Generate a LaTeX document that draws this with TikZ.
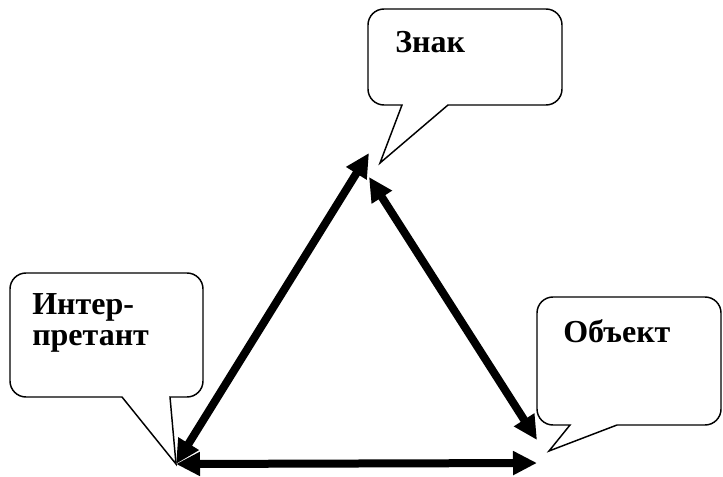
\documentclass[tikz,border=0pt]{standalone}
\usepackage{fontspec}
\setmainfont{Liberation Serif}
\usetikzlibrary{arrows.meta}

\tikzset{
  callout/.style={draw, line width=1.1pt, rounded corners=12pt},
  label text/.style={font=\fontsize{24}{23.5}\selectfont\bfseries, inner sep=0pt, align=left},
  relation/.style={line width=6pt, {Triangle[length=18pt,width=17pt]}-{Triangle[length=18pt,width=17pt]}}
}

\begin{document}
\begin{tikzpicture}[x=0.75pt, y=-0.75pt]
\useasboundingbox (0,0) rectangle (723,477);

% corners of the triangle
\coordinate (interp) at (176,464);
\coordinate (signL) at (369,153); \coordinate (signR) at (369,177);
\coordinate (objU) at (537,440); \coordinate (objL) at (537,463);

% callouts
\draw[callout] (402,105) -- (368,105) -- (368,9) -- (562,9) -- (562,105) [sharp corners] -- (448,105) -- (380,163) -- cycle;
\draw[callout] (122,397) -- (10,397) -- (10,273) -- (203,273) -- (203,397) [sharp corners] -- (170,397) -- (interp) -- cycle;
\draw[callout] (570,425) -- (537,425) -- (537,297) -- (721,297) -- (721,425) [sharp corners] -- (617,425) -- (549,451) -- cycle;

\node[label text, anchor=base west] (sign) at (395,53) {Знак};
\node[label text, anchor=north west] (interpretant) at (32,293) {Интер-\\претант};
\node[label text, anchor=base west] (object) at (563,342) {Объект};

% arrows
\draw[relation] (interp) -- (signL);
\draw[relation] (signR) -- (objU);
\draw[relation] (interp) -- (objL);
\end{tikzpicture}
\end{document}
